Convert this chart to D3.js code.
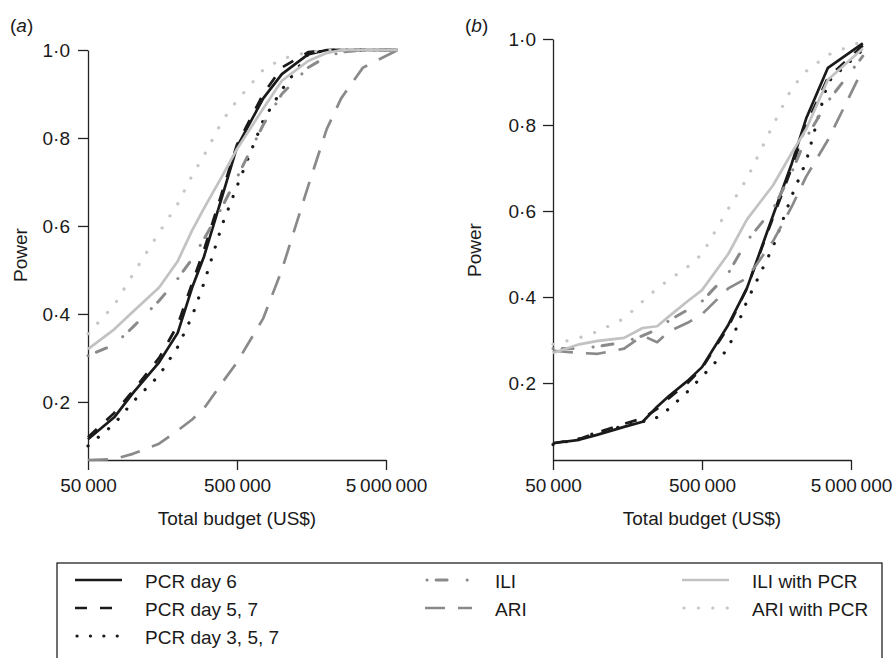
<!DOCTYPE html>
<html>
<head>
<meta charset="utf-8">
<script src="https://cdn.jsdelivr.net/npm/d3@7"></script>
<style>
  body { margin: 0; background: #fff; }
  text { font-family: "Liberation Sans", Arial, sans-serif; fill: #1a1a1a; }
</style>
</head>
<body>
<div id="main"></div>
<script>
// budget grid (US$) shared by both panels
var budget = [50000, 75000, 100000, 150000, 200000, 250000, 300000, 400000, 500000,
              750000, 1000000, 1500000, 2000000, 2500000, 3500000, 6000000];

// panel (a)
var pcr6A    = [0.115, 0.165, 0.22, 0.29, 0.357, 0.46, 0.53, 0.67, 0.78, 0.89, 0.945, 0.99, 1, 1, 1, 1];
var pcr57A   = [0.12, 0.175, 0.225, 0.30, 0.375, 0.47, 0.545, 0.68, 0.785, 0.90, 0.96, 0.995, 1, 1, 1, 1];
var pcr357A  = [0.10, 0.15, 0.20, 0.26, 0.325, 0.395, 0.47, 0.605, 0.69, 0.84, 0.91, 0.99, 1, 1, 1, 1];
var iliA     = [0.305, 0.33, 0.37, 0.43, 0.48, 0.525, 0.57, 0.645, 0.71, 0.83, 0.90, 0.96, 0.985, 0.995, 1, 1];
var ariA     = [0.068, 0.07, 0.082, 0.105, 0.135, 0.16, 0.185, 0.245, 0.29, 0.39, 0.50, 0.69, 0.82, 0.89, 0.96, 1];
var iliPcrA  = [0.32, 0.365, 0.405, 0.46, 0.52, 0.59, 0.64, 0.715, 0.775, 0.867, 0.93, 0.975, 0.993, 1, 1, 1];
var ariPcrA  = [0.355, 0.42, 0.49, 0.585, 0.65, 0.715, 0.76, 0.84, 0.885, 0.955, 0.98, 0.995, 1, 1, 1, 1];

// panel (b)
var pcr6B    = [0.06, 0.068, 0.08, 0.098, 0.11, 0.145, 0.17, 0.205, 0.237, 0.335, 0.42, 0.59, 0.71, 0.815, 0.933, 0.99];
var pcr57B   = [0.06, 0.07, 0.085, 0.105, 0.118, 0.14, 0.165, 0.20, 0.235, 0.33, 0.42, 0.585, 0.70, 0.80, 0.91, 0.985];
var pcr357B  = [0.057, 0.07, 0.086, 0.10, 0.11, 0.12, 0.14, 0.18, 0.215, 0.28, 0.39, 0.517, 0.635, 0.715, 0.90, 0.975];
var iliB     = [0.28, 0.28, 0.285, 0.295, 0.31, 0.325, 0.345, 0.37, 0.39, 0.455, 0.53, 0.605, 0.69, 0.77, 0.855, 0.96];
var ariB     = [0.275, 0.27, 0.268, 0.28, 0.31, 0.295, 0.32, 0.34, 0.36, 0.42, 0.444, 0.53, 0.61, 0.68, 0.765, 0.93];
var iliPcrB  = [0.27, 0.29, 0.298, 0.305, 0.328, 0.332, 0.355, 0.39, 0.416, 0.50, 0.58, 0.66, 0.735, 0.79, 0.905, 0.978];
var ariPcrB  = [0.29, 0.305, 0.32, 0.35, 0.39, 0.42, 0.44, 0.47, 0.50, 0.605, 0.675, 0.80, 0.885, 0.925, 0.963, 0.995];

var seriesNames = ["PCR day 6", "PCR day 5, 7", "PCR day 3, 5, 7", "ILI", "ARI", "ILI with PCR", "ARI with PCR"];
var xTicks = [50000, 500000, 5000000];
var yTicks = [0.2, 0.4, 0.6, 0.8, 1.0];

// line looks, same order as seriesNames
var looks = [
  { color: "#1a1a1a", width: 2.7, dash: null,            cap: "butt"  },
  { color: "#1a1a1a", width: 2.7, dash: "12,13",         cap: "butt"  },
  { color: "#1a1a1a", width: 3.2, dash: "0.1,13.3",      cap: "round" },
  { color: "#8a8a8a", width: 3.0, dash: "0.1,9,11,20",   cap: "round" },
  { color: "#8a8a8a", width: 2.7, dash: "20,13",         cap: "butt"  },
  { color: "#c2c2c2", width: 2.7, dash: null,            cap: "butt"  },
  { color: "#c6c6c6", width: 3.2, dash: "0.1,14.3",      cap: "round" }
];

var svg = d3.select("#main").append("svg")
    .attr("width", 893).attr("height", 658);

function fmtBudget(v) { return d3.format(",")(v).replace(/,/g, "\u2009"); }
function fmtPower(v) { return d3.format(".1f")(v).replace(".", "\u00b7"); }

function drawPanel(opt) {
  var x = d3.scaleLog().domain([50000, 5000000]).range([opt.left, opt.left + 298]);
  var y = d3.scaleLinear().domain([opt.yMin, 1]).range([460, opt.top]);

  var g = svg.append("g");

  var xAxis = g.append("g")
      .attr("transform", "translate(0,460)")
      .call(d3.axisBottom(x).tickValues(xTicks).tickFormat(fmtBudget)
            .tickSize(10).tickSizeOuter(0).tickPadding(9));
  var yAxis = g.append("g")
      .attr("transform", "translate(" + opt.left + ",0)")
      .call(d3.axisLeft(y).tickValues(yTicks).tickFormat(fmtPower)
            .tickSize(10).tickSizeOuter(0).tickPadding(opt.pad));
  [xAxis, yAxis].forEach(function (a) {
    a.selectAll("path, line").attr("stroke", "#222").attr("stroke-width", 1.3);
    a.selectAll("text").style("font-size", "19px")
      .style("font-family", "'Liberation Sans', Arial, sans-serif").attr("fill", "#1a1a1a");
  });

  var line = d3.line()
      .x(function (d) { return x(d[0]); })
      .y(function (d) { return y(d[1]); });

  opt.series.forEach(function (vals, i) {
    var lk = looks[i];
    g.append("path")
      .attr("d", line(d3.zip(budget, vals)))
      .attr("fill", "none")
      .attr("stroke", lk.color)
      .attr("stroke-width", lk.width)
      .attr("stroke-linecap", lk.cap)
      .attr("stroke-linejoin", "round")
      .attr("stroke-dasharray", lk.dash);
  });

  g.append("text")
    .attr("x", x(500000)).attr("y", 525)
    .attr("text-anchor", "middle").style("font-size", "19px")
    .text("Total budget (US$)");

  g.append("text")
    .attr("transform", "translate(" + opt.powerX + "," + opt.powerY + ") rotate(-90)")
    .attr("text-anchor", "middle").style("font-size", "19px")
    .text("Power");

  var lab = g.append("text").attr("x", opt.labX).attr("y", 32).style("font-size", "19px");
  lab.append("tspan").text("(");
  lab.append("tspan").style("font-style", "italic").text(opt.letter);
  lab.append("tspan").text(")");
}

drawPanel({ left: 88, top: 50, yMin: 0.068, pad: 8, powerX: 27, powerY: 255, labX: 10, letter: "a",
            series: [pcr6A, pcr57A, pcr357A, iliA, ariA, iliPcrA, ariPcrA] });
drawPanel({ left: 553, top: 39, yMin: 0.021, pad: 7, powerX: 481, powerY: 250, labX: 465, letter: "b",
            series: [pcr6B, pcr57B, pcr357B, iliB, ariB, iliPcrB, ariPcrB] });

// legend
svg.append("rect")
  .attr("x", 57).attr("y", 563).attr("width", 825).attr("height", 120)
  .attr("fill", "none").attr("stroke", "#222").attr("stroke-width", 1.3);

var legendCols = [75, 425, 682];
var legendPos = [[0, 0], [0, 1], [0, 2], [1, 0], [1, 1], [2, 0], [2, 1]];

seriesNames.forEach(function (name, i) {
  var cx = legendCols[legendPos[i][0]];
  var cy = 580 + legendPos[i][1] * 28;
  var lk = looks[i];
  svg.append("line")
    .attr("x1", cx + (lk.cap === "round" ? 2 : 0)).attr("x2", cx + 47)
    .attr("y1", cy).attr("y2", cy)
    .attr("stroke", lk.color).attr("stroke-width", lk.width)
    .attr("stroke-linecap", lk.cap).attr("stroke-dasharray", lk.dash);
  svg.append("text")
    .attr("x", cx + 70).attr("y", cy + 8)
    .style("font-size", "19px")
    .text(name);
});
</script>
</body>
</html>
